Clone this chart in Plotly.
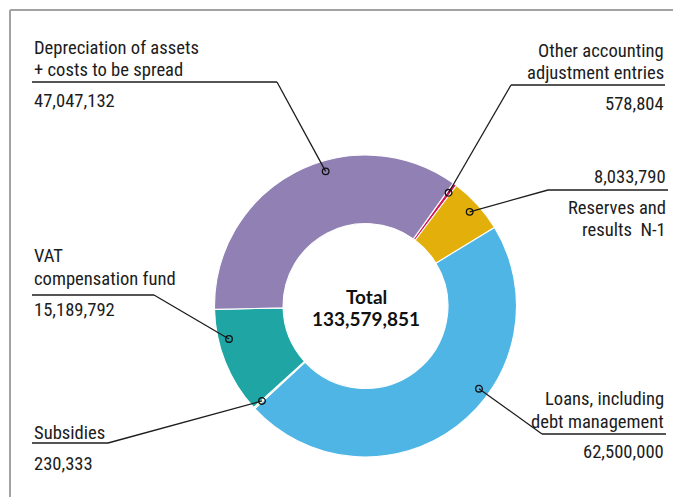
import math
import plotly.graph_objects as go

# ---------------- data ----------------
slice_names = [
    "Other accounting adjustment entries",
    "Reserves and results N-1",
    "Loans, including debt management",
    "Subsidies",
    "VAT compensation fund",
    "Depreciation of assets + costs to be spread",
]
slice_values = [578804, 8033790, 62500000, 230333, 15189792, 47047132]
label_lines = [
    ["Other accounting", "adjustment entries"],
    ["Reserves and", "results\u00a0 N-1"],
    ["Loans, including", "debt management"],
    ["Subsidies"],
    ["VAT", "compensation fund"],
    ["Depreciation of assets", "+ costs to be spread"],
]
center_title = "Total"

# ---------------- style ----------------
colors = ["#D6175A", "#E3AF0B", "#4FB5E5", "#DDE27A", "#1FA5A3", "#9080B4"]
W, H = 673, 497
cx, cy, R = 365.5, 306.0, 151.0
hole = 0.546
rotation = 35.5
FONT = "Roboto Condensed, Liberation Sans Narrow, sans-serif"
TXT = "#1c1c1c"
FS = 18.6

# per-slice label layout: (align, text x, line ys, value y, value first?, underline y, underline x0, x1, elbow x)
layouts = [
    ("right", 666, [50.5, 73], 104, False, 85, 511, 665, 511),
    ("right", 668, [208, 230], 177, True, 190, 548, 668, 548),
    ("right", 666, [399, 422], 452, False, 434, 542, 666, 542),
    ("left", 32, [433], 464, False, 443, 32, 108, 108),
    ("left", 32, [256, 279], 310, False, 295, 32, 154, 154),
    ("left", 32, [48, 70], 101.5, False, 82, 32, 277, 277),
]
anchor_frac = [0.5, 0.5, 0.40, 0.5, 0.70, 0.59]
anchor_r = 0.93


def px(x):
    return x / W


def py(y):
    return 1 - y / H


fig = go.Figure()
fig.add_trace(go.Pie(
    labels=slice_names,
    values=slice_values,
    sort=False,
    direction="clockwise",
    rotation=rotation,
    hole=hole,
    marker=dict(colors=colors, line=dict(color="white", width=1.1)),
    textinfo="none",
    hoverinfo="label+value",
    showlegend=False,
    domain=dict(x=[px(cx - R), px(cx + R)], y=[py(cy + R), py(cy - R)]),
))

total = sum(slice_values)
shapes = []
annotations = []

# frame lines
shapes.append(dict(type="line", xref="paper", yref="paper", x0=px(10), x1=1, y0=py(10), y1=py(10),
                   line=dict(color="#a3a3a3", width=2)))
shapes.append(dict(type="line", xref="paper", yref="paper", x0=px(10), x1=px(10), y0=py(10), y1=0,
                   line=dict(color="#a3a3a3", width=2)))

start = rotation
for i, v in enumerate(slice_values):
    span = 360.0 * v / total
    ang = math.radians(start + span * anchor_frac[i])
    start += span
    mx = cx + anchor_r * R * math.sin(ang)
    my = cy - anchor_r * R * math.cos(ang)
    align, tx, lys, vy, vfirst, uy, ux0, ux1, ex = layouts[i]
    # underline
    shapes.append(dict(type="line", xref="paper", yref="paper", x0=px(ux0), x1=px(ux1), y0=py(uy), y1=py(uy),
                       line=dict(color=TXT, width=1.3), layer="above"))
    # leader
    shapes.append(dict(type="line", xref="paper", yref="paper", x0=px(ex), x1=px(mx), y0=py(uy), y1=py(my),
                       line=dict(color=TXT, width=1.3), layer="above"))
    # marker circle
    r = 3.3
    shapes.append(dict(type="circle", xref="paper", yref="paper", x0=px(mx - r), x1=px(mx + r),
                       y0=py(my + r), y1=py(my - r), line=dict(color="#111", width=1.3), layer="above"))
    for t, yy in zip(label_lines[i], lys):
        annotations.append(dict(x=px(tx), y=py(yy), xref="paper", yref="paper", text=t, showarrow=False,
                                xanchor=align, yanchor="middle", font=dict(family=FONT, size=FS, color=TXT)))
    annotations.append(dict(x=px(tx), y=py(vy), xref="paper", yref="paper", text=f"{v:,}", showarrow=False,
                            xanchor=align, yanchor="middle", font=dict(family=FONT, size=FS, color=TXT)))

annotations.append(dict(x=px(366.5), y=py(296), xref="paper", yref="paper", text=f"<b>{center_title}</b>",
                        showarrow=False, font=dict(family="Lato, Open Sans, sans-serif", size=19, color="#111")))
annotations.append(dict(x=px(366.5), y=py(318), xref="paper", yref="paper", text=f"<b>{total:,}</b>",
                        showarrow=False, font=dict(family="Lato, Open Sans, sans-serif", size=19, color="#111")))

fig.update_layout(
    width=W, height=H,
    margin=dict(l=0, r=0, t=0, b=0),
    paper_bgcolor="white",
    plot_bgcolor="white",
    shapes=shapes,
    annotations=annotations,
)

fig.write_html("out.html",
               config={"displayModeBar": False},
               post_script="document.body.style.margin='0';document.body.style.overflow='hidden';")
